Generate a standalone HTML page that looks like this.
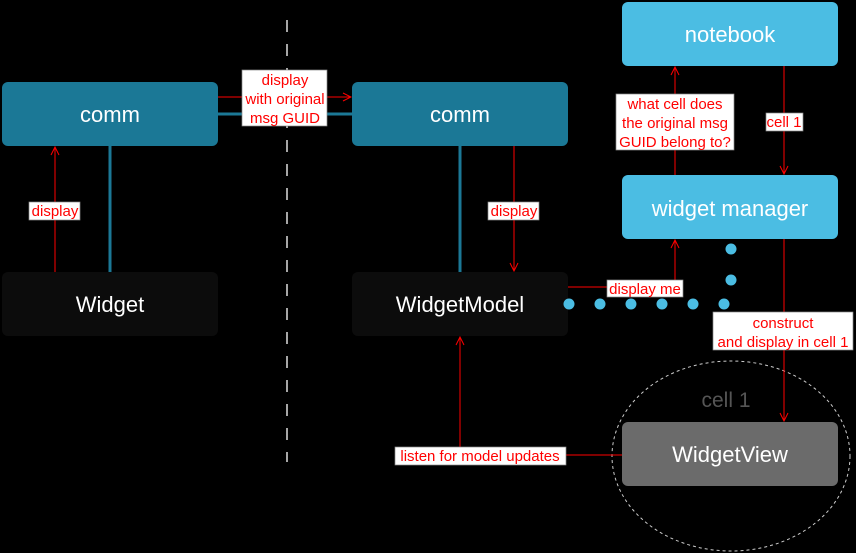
<!DOCTYPE html>
<html><head><style>body{margin:0;background:#000}svg{display:block}</style></head><body>
<svg width="856" height="553" xmlns="http://www.w3.org/2000/svg" font-family="Liberation Sans, sans-serif">
<rect width="856" height="553" fill="#000"/>
<defs><marker id="a" markerWidth="10" markerHeight="10" refX="9" refY="5" orient="auto" markerUnits="userSpaceOnUse"><path d="M1,1 L9,5 L1,9" fill="none" stroke="#f00" stroke-width="1"/></marker></defs>
<line x1="287" y1="20" x2="287" y2="462" stroke="#ddd" stroke-width="1.5" stroke-dasharray="12,12"/>
<ellipse cx="731" cy="456" rx="119" ry="95" fill="none" stroke="#ccc" stroke-dasharray="3,3"/>
<line x1="218" y1="114" x2="352" y2="114" stroke="#1b7896" stroke-width="3"/>
<line x1="110" y1="146" x2="110" y2="272" stroke="#1b7896" stroke-width="3"/>
<line x1="460" y1="146" x2="460" y2="272" stroke="#1b7896" stroke-width="3"/>
<rect x="2" y="82" width="216" height="64" rx="6" fill="#1b7896"/>
<rect x="352" y="82" width="216" height="64" rx="6" fill="#1b7896"/>
<rect x="622" y="2" width="216" height="64" rx="6" fill="#4bbde3"/>
<rect x="622" y="175" width="216" height="64" rx="6" fill="#4bbde3"/>
<rect x="2" y="272" width="216" height="64" rx="6" fill="#0c0c0c"/>
<rect x="352" y="272" width="216" height="64" rx="6" fill="#0c0c0c"/>
<rect x="622" y="422" width="216" height="64" rx="6" fill="#6b6b6b"/>
<g fill="#fff" font-size="22" text-anchor="middle">
<text x="110" y="122">comm</text><text x="460" y="122">comm</text>
<text x="730" y="42">notebook</text><text x="730" y="216">widget manager</text>
<text x="110" y="312">Widget</text><text x="460" y="312">WidgetModel</text>
<text x="730" y="462">WidgetView</text>
</g>
<text x="726" y="407" fill="#555" font-size="21" text-anchor="middle">cell 1</text>
<g fill="#4bbde3"><circle cx="569" cy="304" r="5.5"/><circle cx="600" cy="304" r="5.5"/><circle cx="631" cy="304" r="5.5"/><circle cx="662" cy="304" r="5.5"/><circle cx="693" cy="304" r="5.5"/><circle cx="724" cy="304" r="5.5"/><circle cx="731" cy="249" r="5.5"/><circle cx="731" cy="280" r="5.5"/></g>
<g stroke="#f00" stroke-width="1" fill="none">
<line x1="218" y1="97" x2="351" y2="97" marker-end="url(#a)"/>
<line x1="55" y1="272" x2="55" y2="147" marker-end="url(#a)"/>
<line x1="514" y1="146" x2="514" y2="271" marker-end="url(#a)"/>
<path d="M568,287 H675 V240" marker-end="url(#a)"/>
<line x1="675" y1="175" x2="675" y2="67" marker-end="url(#a)"/>
<line x1="784" y1="66" x2="784" y2="174" marker-end="url(#a)"/>
<line x1="784" y1="239" x2="784" y2="421" marker-end="url(#a)"/>
<path d="M622,455 H460 V337" marker-end="url(#a)"/>
</g>
<g fill="#fff" stroke="#888" stroke-width="0.7">
<rect x="242" y="70" width="85" height="56"/>
<rect x="29" y="202" width="51" height="18"/>
<rect x="488" y="202" width="51" height="18"/>
<rect x="607" y="280" width="76" height="17"/>
<rect x="616" y="94" width="118" height="56"/>
<rect x="766" y="113" width="37" height="18"/>
<rect x="713" y="312" width="140" height="38"/>
<rect x="395" y="447" width="171" height="18"/>
</g>
<g fill="#f00" font-size="15" text-anchor="middle">
<text x="285" y="85">display</text><text x="285" y="104">with original</text><text x="285" y="123">msg GUID</text>
<text x="55" y="216">display</text><text x="514" y="216">display</text>
<text x="645" y="294">display me</text>
<text x="675" y="109">what cell does</text><text x="675" y="128">the original msg</text><text x="675" y="147">GUID belong to?</text>
<text x="784" y="127">cell 1</text>
<text x="783" y="328">construct</text><text x="783" y="347">and display in cell 1</text>
<text x="480" y="461">listen for model updates</text>
</g>
</svg>
</body></html>
